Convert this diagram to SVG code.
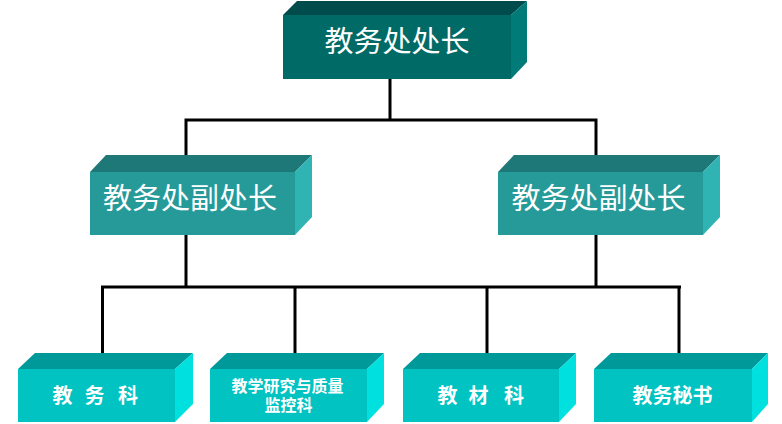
<svg xmlns="http://www.w3.org/2000/svg" width="782" height="424" viewBox="0 0 782 424">
<style>
.t{fill:#fff;font-family:"Noto Sans CJK SC","Noto Sans CJK JP",sans-serif;text-anchor:middle}
.big{font-size:29px}
.sm{font-size:20px;font-weight:bold}
.xs{font-size:16px;font-weight:bold;font-family:"Liberation Sans","Noto Sans CJK SC",sans-serif}
.l1 .f{fill:#006A66}.l1 .tp{fill:#004C4C}.l1 .sd{fill:#007B77}
.l2 .f{fill:#269A99}.l2 .tp{fill:#1E7877}.l2 .sd{fill:#2FB4B3}
.l3 .f{fill:#00C3C2}.l3 .tp{fill:#009999}.l3 .sd{fill:#00E0DF}
.c{stroke:#000;stroke-width:3;fill:none}
</style>
<rect width="782" height="424" fill="#fff"/>
<g id="connectors" class="c">
<path d="M390 78V120M186 120H597M186 118.5V156M596 118.5V156"/>
<path d="M186 235V287M596 235V287M101 287H681M102.5 285.5V353M295 285.5V353M487 285.5V353M679 285.5V353"/>
</g>
<g id="n0" class="l1">
<polygon class="tp" points="283,15 297,1 527,1 511,15"/>
<polygon class="sd" points="511,15 527,1 527,62 511,79"/>
<rect class="f" x="283" y="15" width="228" height="64"/>
<text class="t big" x="397" y="52">教务处处长</text>
</g>
<g id="n1" class="l2">
<polygon class="tp" points="90,172 106,155 312,155 295,172"/>
<polygon class="sd" points="295,172 312,155 312,217 295,235"/>
<rect class="f" x="90" y="172" width="205" height="63"/>
<text class="t big" x="190" y="208.5">教务处副处长</text>
</g>
<g id="n2" class="l2">
<polygon class="tp" points="498,172 514,155 720,155 703,172"/>
<polygon class="sd" points="703,172 720,155 720,217 703,235"/>
<rect class="f" x="498" y="172" width="205" height="63"/>
<text class="t big" x="598.5" y="208.5">教务处副处长</text>
</g>
<g id="n3" class="l3">
<polygon class="tp" points="18,369 35,353 193,353 175,369"/>
<polygon class="sd" points="175,369 193,353 193,404 175,422"/>
<rect class="f" x="18" y="369" width="157" height="53"/>
<text class="t sm" x="62.5 94.5 128" y="402.5">教务科</text>
</g>
<g id="n4" class="l3">
<polygon class="tp" points="210,369 227,353 384,353 367,369"/>
<polygon class="sd" points="367,369 384,353 384,404 367,422"/>
<rect class="f" x="210" y="369" width="157" height="53"/>
<text class="t xs" x="287.5" y="391.5">教学研究与质量</text>
<text class="t xs" x="288.5" y="411">监控科</text>
</g>
<g id="n5" class="l3">
<polygon class="tp" points="403,369 420,353 576,353 559,369"/>
<polygon class="sd" points="559,369 576,353 576,404 559,422"/>
<rect class="f" x="403" y="369" width="156" height="53"/>
<text class="t sm" x="447.5 478.5 514" y="402.5">教材科</text>
</g>
<g id="n6" class="l3">
<polygon class="tp" points="594,369 611,353 768,353 752,369"/>
<polygon class="sd" points="752,369 768,353 768,404 752,422"/>
<rect class="f" x="594" y="369" width="158" height="53"/>
<text class="t sm" x="672.5" y="403">教务秘书</text>
</g>
</svg>
